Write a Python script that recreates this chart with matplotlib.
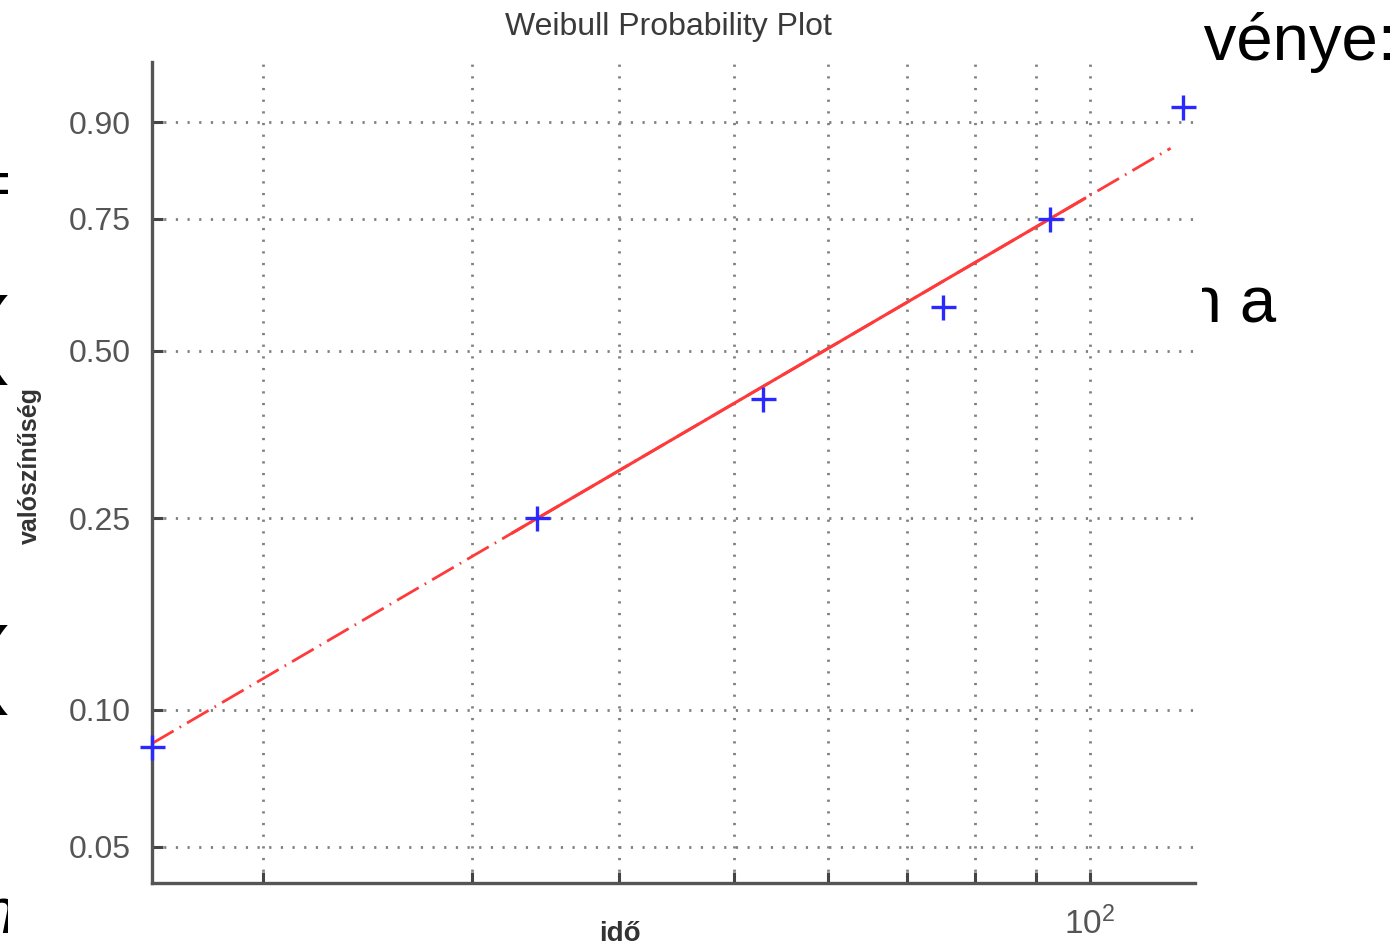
import numpy as np
import matplotlib
matplotlib.use('Agg')
import matplotlib.pyplot as plt
from matplotlib.patches import Rectangle

# failure times (x) and plotting positions (y)
times = [16.1, 34.1, 52.9, 75.1, 92.5, 119.8]
probs = [0.083, 0.25, 0.417, 0.583, 0.75, 0.917]

# y ticks and vertical grid positions
prob_ticks = [0.05, 0.10, 0.25, 0.50, 0.75, 0.90]
prob_labels = ['0.05', '0.10', '0.25', '0.50', '0.75', '0.90']
time_grid = [20, 30, 40, 50, 60, 70, 80, 90, 100]

# reference line: solid between these x values, dash-dot up to the ends
solid_span = [32.5, 99.0]
full_span = [16.1, 117.0]

def wbl(p):
    return np.log(-np.log(1 - np.asarray(p, dtype=float)))

W, H = 1400, 948
def fx(px):
    return px / W
def fy(py):
    return 1 - py / H

matplotlib.rcParams['font.family'] = ['Liberation Sans', 'DejaVu Sans']
matplotlib.rcParams['mathtext.fontset'] = 'custom'
matplotlib.rcParams['mathtext.rm'] = 'Liberation Sans'

fig = plt.figure(figsize=(14, 9.48), dpi=100)

# slide text behind the pasted plot
slide_kw = dict(color='black', zorder=0, family='Liberation Sans')
fig.text(fx(1396), fy(60), 'függvénye:', ha='right', va='baseline', fontsize=47, **slide_kw)
fig.text(fx(1276), fy(322), 'ban a', ha='right', va='baseline', fontsize=47, **slide_kw)
fig.text(fx(20), fy(205), '=', ha='right', va='baseline', fontsize=47, **slide_kw)
fig.text(fx(8), fy(365), '(', ha='right', va='baseline', fontsize=70, **slide_kw)
fig.text(fx(8), fy(695), '(', ha='right', va='baseline', fontsize=70, **slide_kw)
fig.text(fx(16), fy(933), 'n', ha='right', va='baseline', style='italic', fontsize=47, **slide_kw)
fig.patches.append(Rectangle((fx(8), 0), fx(1202 - 8), 1, transform=fig.transFigure,
                             facecolor='white', edgecolor='none', zorder=0.5))

ax = fig.add_axes([fx(152), fy(883), fx(1195 - 152), (883 - 62) / H])
ax.set_zorder(1)
ax.set_xscale('log')

# reference line through the quartile points
lx = np.log(np.array([times[1], times[4]]))
ly = wbl([probs[1], probs[4]])
slope = (ly[1] - ly[0]) / (lx[1] - lx[0])
def refline(x):
    return ly[0] + slope * (np.log(x) - lx[0])

xf = np.array(full_span)
xs = np.array(solid_span)
ax.plot(xf, refline(xf), color='#ff3a3a', lw=2, dashes=(9, 2.5, 0.6, 2.5), zorder=3)
ax.plot(xs, refline(xs), color='#ff3a3a', lw=2.2, zorder=3)
ax.plot(times, wbl(probs), '+', color='#2a2aff', ms=18, mew=2.4, zorder=4, clip_on=False)

ax.set_xlim(16.1, 122.7)
ax.set_ylim(-3.161, 1.150)

ax.set_yticks(wbl(prob_ticks))
ax.set_yticklabels(prob_labels)
ax.xaxis.set_minor_locator(matplotlib.ticker.NullLocator())
ax.set_xticks(time_grid)
ax.set_xticklabels(['' if t != 100 else '$\\mathregular{10^2}$' for t in time_grid])

grid_kw = dict(color='#808080', lw=2.0, dashes=(0.8, 3.4))
for t in time_grid:
    ax.axvline(t, zorder=1, **grid_kw)
for p in wbl(prob_ticks):
    ax.axhline(p, zorder=1, **grid_kw)

ax.tick_params(axis='both', direction='in', length=8, width=2.2, color='#444444',
               labelsize=23, labelcolor='#555555')
ax.tick_params(axis='y', pad=15)
ax.tick_params(axis='x', pad=17, labelsize=24)
for s in ['top', 'right']:
    ax.spines[s].set_visible(False)
for s in ['left', 'bottom']:
    ax.spines[s].set_color('#555555')
    ax.spines[s].set_linewidth(2.4)

fig.text(fx(668), fy(27), 'Weibull Probability Plot', ha='center', va='center',
         fontsize=23, color='#3a3a3a', zorder=2)
fig.text(fx(30), fy(466), 'valószínűség', ha='center', va='center', rotation=90,
         fontsize=18, fontweight='bold', color='#333333', zorder=2)
fig.text(fx(620), fy(934), 'idő', ha='center', va='center',
         fontsize=20, fontweight='bold', color='#333333', zorder=2)

fig.savefig('out.png', dpi=100)
